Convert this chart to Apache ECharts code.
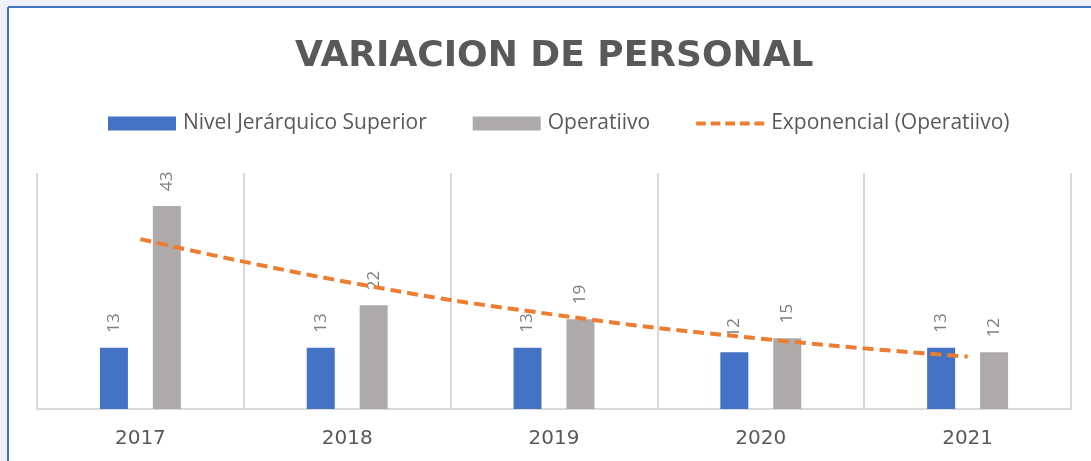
<!DOCTYPE html>
<html>
<head>
<meta charset="utf-8">
<script src="https://cdn.jsdelivr.net/npm/echarts@6/dist/echarts.min.js"></script>
<style>
  html, body { margin: 0; padding: 0; background: #ffffff; }
  #chart { width: 1091px; height: 461px; }
</style>
</head>
<body>
<div id="chart"></div>
<script>
var years = ['2017', '2018', '2019', '2020', '2021']
var nivelSuperior = [13, 13, 13, 12, 13]
var operativo = [43, 22, 19, 15, 12]
// linea de tendencia exponencial
var tendencia = [36.0, 26.9, 20.0, 14.9, 11.1]

var chart = echarts.init(document.getElementById('chart'))

var labelStyle = {
  show: true,
  position: 'top',
  rotate: 90,
  align: 'left',
  verticalAlign: 'middle',
  distance: 15,
  color: '#7f7f7f',
  fontSize: 17,
  fontFamily: 'Open Sans'
}

var option = {
  backgroundColor: '#ffffff',
  animation: false,
  title: {
    text: 'VARIACION DE PERSONAL',
    left: 290,
    top: 34,
    textStyle: {
      color: '#595959',
      fontSize: 36,
      fontWeight: 'bold',
      fontFamily: 'DejaVu Sans'
    }
  },
  legend: {
    top: 108,
    left: 103,
    itemWidth: 68,
    itemHeight: 14,
    itemGap: 46,
    textStyle: {
      color: '#595959',
      fontSize: 21,
      fontFamily: 'Open Sans',
      padding: [0, 0, 0, 2]
    },
    data: [
      { name: 'Nivel Jerárquico Superior', icon: 'rect' },
      { name: 'Operatiivo', icon: 'rect' },
      // icono de linea discontinua como en Excel
      { name: 'Exponencial (Operatiivo)', icon: 'path://M0 0h10v4H0z M15 0h10v4H15z M30 0h10v4H30z M45 0h10v4H45z M60 0h10v4H60z' }
    ]
  },
  grid: {
    left: 37,
    right: 20,
    top: 173,
    bottom: 52
  },
  xAxis: {
    type: 'category',
    data: years,
    axisLine: { lineStyle: { color: '#d9d9d9', width: 2 } },
    axisTick: { show: false },
    splitLine: { show: true, lineStyle: { color: '#d9d9d9', width: 2 } },
    axisLabel: {
      color: '#595959',
      fontSize: 20,
      fontFamily: 'DejaVu Sans',
      margin: 20
    }
  },
  yAxis: {
    type: 'value',
    min: 0,
    max: 50,
    show: false
  },
  series: [
    {
      name: 'Nivel Jerárquico Superior',
      type: 'bar',
      data: nivelSuperior,
      barWidth: 28,
      barGap: '89%',
      itemStyle: { color: '#4472c4' },
      label: labelStyle
    },
    {
      name: 'Operatiivo',
      type: 'bar',
      data: operativo,
      barWidth: 28,
      itemStyle: { color: '#aeaaaa' },
      label: labelStyle
    },
    {
      name: 'Exponencial (Operatiivo)',
      type: 'line',
      data: tendencia,
      smooth: true,
      symbol: 'none',
      z: 5,
      lineStyle: { color: '#ed7d31', width: 4, type: [11, 6] },
      itemStyle: { color: '#ed7d31' }
    }
  ],
  graphic: [
    { type: 'rect', shape: { x: 0, y: 0, width: 1091, height: 6 }, style: { fill: '#eef1f7' }, silent: true },
    { type: 'rect', shape: { x: 0, y: 0, width: 7, height: 461 }, style: { fill: '#eef1f7' }, silent: true },
    { type: 'line', shape: { x1: 8, y1: 7, x2: 1091, y2: 7 }, style: { stroke: '#4472c4', lineWidth: 2 }, silent: true },
    { type: 'line', shape: { x1: 8, y1: 7, x2: 8, y2: 461 }, style: { stroke: '#4472c4', lineWidth: 2 }, silent: true }
  ]
}

chart.setOption(option)
</script>
</body>
</html>
